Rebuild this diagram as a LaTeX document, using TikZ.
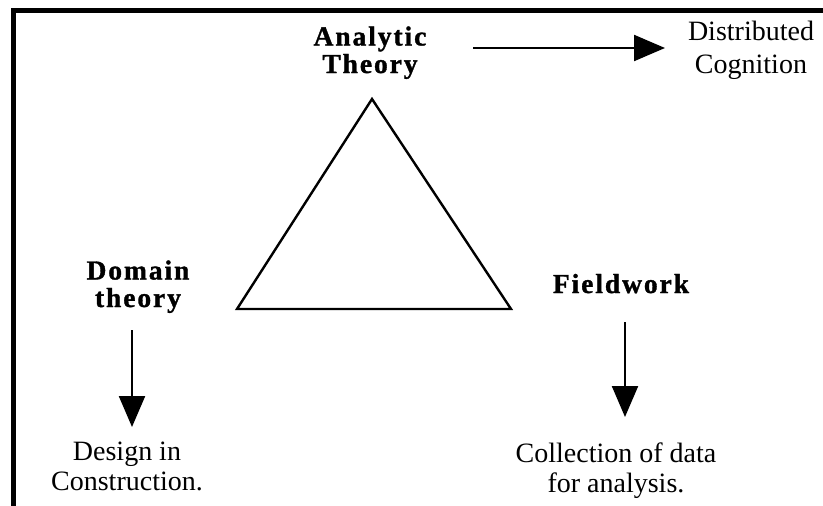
\documentclass[tikz,border=0pt]{standalone}
\usepackage{fontspec}
\setmainfont{Liberation Serif}
\usetikzlibrary{arrows.meta}
\tikzset{
  plain/.style={align=center,inner sep=0pt,anchor=base,font=\fontsize{28}{30}\selectfont},
  heavy/.style={align=center,inner sep=0pt,anchor=base,font=\fontsize{27.5}{27.5}\selectfont\bfseries\addfontfeature{LetterSpace=7,FakeBold=1.2}},
  arr/.style={line width=2.2pt,-{Triangle[length=31pt,width=26pt]}},
  tri/.style={line width=2.4pt,line join=miter},
  frame/.style={line width=5pt,line join=miter}
}
\begin{document}
\begin{tikzpicture}[x=1pt,y=-1pt]
\useasboundingbox (0,0) rectangle (823,506);
\draw[frame] (13.5,506) -- (13.5,10) -- (823,10);
\node[heavy] (an) at (370,73) {Analytic\\Theory};
\node[plain,font=\fontsize{28}{33}\selectfont] (dc) at (751,73) {Distributed\\Cognition};
\node[heavy] (dt) at (138,307) {Domain\\theory};
\node[heavy] (fw) at (621,293) {Fieldwork};
\node[plain] (dic) at (127,490) {Design in\\Construction.};
\node[plain] (cd) at (616,492) {Collection of data\\for analysis.};
\coordinate (t1) at (372,99);
\coordinate (t2) at (237,309);
\coordinate (t3) at (511,309);
\draw[tri] (t1) -- (t2) -- (t3) -- cycle;
\coordinate (a1s) at (473,48);
\coordinate (a1e) at (665,48);
\draw[arr] (a1s) -- (a1e);
\coordinate (a2s) at (132,330);
\coordinate (a2e) at (132,427);
\draw[arr] (a2s) -- (a2e);
\coordinate (a3s) at (625,322);
\coordinate (a3e) at (625,417);
\draw[arr] (a3s) -- (a3e);
\end{tikzpicture}
\end{document}
